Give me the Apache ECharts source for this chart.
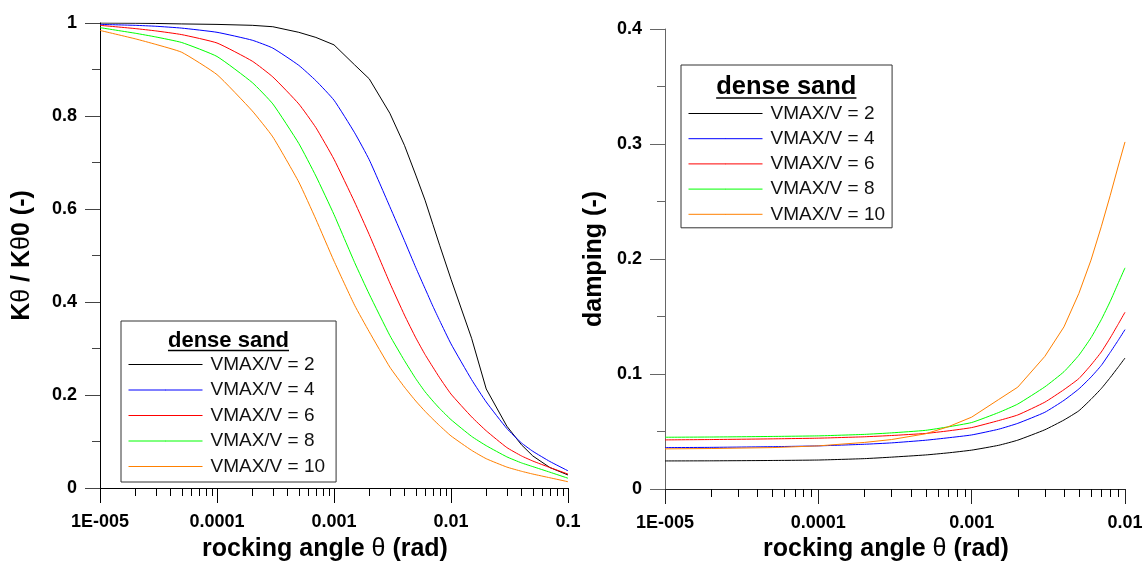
<!DOCTYPE html>
<html><head><meta charset="utf-8">
<script src="https://cdn.jsdelivr.net/npm/echarts@6/dist/echarts.min.js"></script>
<style>html,body{margin:0;padding:0;background:#fff}#c{width:1145px;height:562px}</style>
</head><body><div id="c"></div>
<script>
// ---------- data ----------
const seriesNames = ['VMAX/V = 2', 'VMAX/V = 4', 'VMAX/V = 6', 'VMAX/V = 8', 'VMAX/V = 10'];
const seriesColors = ['#000000', '#0000ff', '#ff0000', '#00ff00', '#ff8000'];

// left panel: stiffness ratio vs rocking angle
const thetaK = [1e-5, 2e-5, 3e-5, 5e-5, 1e-4, 2e-4, 3e-4, 5e-4, 7e-4, 1e-3, 1.5e-3, 2e-3, 3e-3, 4e-3, 5e-3, 6e-3, 7e-3, 8e-3, 1e-2, 1.5e-2, 2e-2, 3e-2, 4e-2, 5e-2, 7e-2, 0.1];
const kV2  = [1.000, 0.9995, 0.999, 0.998, 0.997, 0.995, 0.992, 0.980, 0.969, 0.953, 0.910, 0.880, 0.806, 0.737, 0.673, 0.619, 0.567, 0.522, 0.449, 0.322, 0.213, 0.133, 0.093, 0.069, 0.044, 0.028];
const kV4  = [0.997, 0.995, 0.993, 0.989, 0.980, 0.963, 0.946, 0.909, 0.876, 0.834, 0.764, 0.706, 0.605, 0.532, 0.474, 0.429, 0.391, 0.360, 0.310, 0.233, 0.185, 0.128, 0.097, 0.079, 0.057, 0.037];
const kV6  = [0.995, 0.988, 0.983, 0.975, 0.957, 0.918, 0.884, 0.826, 0.775, 0.707, 0.615, 0.545, 0.441, 0.372, 0.323, 0.287, 0.260, 0.237, 0.202, 0.153, 0.123, 0.087, 0.069, 0.058, 0.044, 0.030];
const kV8  = [0.990, 0.978, 0.970, 0.958, 0.928, 0.872, 0.826, 0.741, 0.671, 0.588, 0.485, 0.417, 0.328, 0.274, 0.235, 0.207, 0.187, 0.171, 0.147, 0.111, 0.091, 0.067, 0.054, 0.046, 0.034, 0.021];
const kV10 = [0.984, 0.966, 0.954, 0.937, 0.889, 0.811, 0.755, 0.658, 0.578, 0.488, 0.393, 0.336, 0.260, 0.217, 0.187, 0.165, 0.148, 0.134, 0.112, 0.081, 0.063, 0.045, 0.036, 0.030, 0.022, 0.0135];

// right panel: damping vs rocking angle
const thetaD = [1e-5, 2e-5, 5e-5, 1e-4, 2e-4, 3e-4, 5e-4, 7e-4, 1e-3, 1.5e-3, 2e-3, 3e-3, 4e-3, 5e-3, 6e-3, 7e-3, 8e-3, 9e-3, 1e-2];
const dV2  = [0.0244, 0.0245, 0.0248, 0.0252, 0.0264, 0.0277, 0.0296, 0.0314, 0.0338, 0.0380, 0.0425, 0.0515, 0.0600, 0.0680, 0.0780, 0.0873, 0.0968, 0.1057, 0.1139];
const dV4  = [0.0360, 0.0362, 0.0368, 0.0375, 0.0389, 0.0401, 0.0424, 0.0445, 0.0470, 0.0520, 0.0571, 0.0667, 0.0771, 0.0870, 0.0973, 0.1074, 0.1187, 0.1290, 0.1386];
const dV6  = [0.0427, 0.0430, 0.0436, 0.0442, 0.0454, 0.0465, 0.0483, 0.0505, 0.0534, 0.0595, 0.0644, 0.0755, 0.0864, 0.0960, 0.1078, 0.1191, 0.1313, 0.1430, 0.1537];
const dV8  = [0.0450, 0.0452, 0.0457, 0.0462, 0.0475, 0.0488, 0.0510, 0.0540, 0.0578, 0.0665, 0.0739, 0.0888, 0.1020, 0.1163, 0.1315, 0.1472, 0.1630, 0.1785, 0.1923];
const dV10 = [0.0349, 0.0352, 0.0360, 0.0375, 0.0405, 0.0430, 0.0480, 0.0540, 0.0625, 0.0778, 0.0886, 0.1153, 0.1410, 0.1700, 0.1990, 0.2280, 0.2550, 0.2800, 0.3018];

// tick labels
const xTickLabelsK = ['1E-005', '0.0001', '0.001', '0.01', '0.1'];
const xTickLabelsD = ['1E-005', '0.0001', '0.001', '0.01'];
const yTickLabelsK = ['0', '0.2', '0.4', '0.6', '0.8', '1'];
const yTickLabelsD = ['0', '0.1', '0.2', '0.3', '0.4'];
const legendTitle = 'dense sand';

// minor log ticks (2..9 in each decade)
function minorLogTicks(decades) {
  const out = [];
  decades.forEach(d => { for (let m = 2; m <= 9; m++) out.push(+(m * d).toPrecision(3)); });
  return out;
}
const minorK = minorLogTicks([1e-5, 1e-4, 1e-3, 1e-2]);
const minorD = minorLogTicks([1e-5, 1e-4, 1e-3]);

// ---------- chart ----------
const FF = '"Liberation Sans", Arial, sans-serif';
const chart = echarts.init(document.getElementById('c'), null, {renderer: 'canvas'});

function pairs(xs, ys) { return xs.map((x, i) => [x, ys[i]]); }

function lineSeries(name, color, xs, ys, xi, smooth) {
  return {
    type: 'line', name: name, xAxisIndex: xi, yAxisIndex: xi,
    data: pairs(xs, ys), symbol: 'none', showSymbol: false,
    smooth: smooth,
    color: color,
    lineStyle: {color: color, width: 1}, itemStyle: {color: color},
    silent: true, clip: true, z: 2
  };
}

function minorTickSeries(xi, vals) {
  return {
    type: 'custom', xAxisIndex: xi, yAxisIndex: xi, silent: true, clip: false, z: 5,
    data: vals.map(v => [v, 0]),
    renderItem: function (params, api) {
      const p = api.coord([api.value(0), api.value(1)]);
      const x = Math.round(p[0]) + 0.5;
      return {type: 'line', shape: {x1: x, y1: p[1], x2: x, y2: p[1] + 8}, style: {stroke: '#000', lineWidth: 1}};
    }
  };
}

const thetaName = '{a|rocking angle }{t|θ}{a| (rad)}';
const richTitle = {
  a: {fontSize: 25, fontWeight: 'bold', fontFamily: FF, color: '#000'},
  t: {fontSize: 25, fontWeight: 'normal', fontFamily: FF, color: '#000'}
};

function xAxisCfg(gi, min, max, labels, lineColor, gap) {
  return {
    type: 'log', logBase: 10, gridIndex: gi, min: min, max: max,
    axisLine: {show: true, onZero: false, lineStyle: {color: lineColor, width: 1}},
    axisTick: {show: true, length: 15, inside: false, lineStyle: {color: lineColor, width: 1}},
    minorTick: {show: false}, splitLine: {show: false}, minorSplitLine: {show: false},
    axisLabel: {
      margin: 25, fontSize: 18, fontWeight: 'bold', fontFamily: FF, color: '#000',
      showMinLabel: true, showMaxLabel: true, hideOverlap: false,
      formatter: v => labels[Math.round(Math.log10(v)) + 5]
    },
    name: thetaName, nameLocation: 'middle', nameGap: gap,
    nameTextStyle: {rich: richTitle, padding: [0, 18, 0, 0]}
  };
}

function yAxisCfg(gi, max, interval, labels, lineColor, tickColor, name, gap) {
  return {
    type: 'value', gridIndex: gi, min: 0, max: max, interval: interval,
    axisLine: {show: true, onZero: false, lineStyle: {color: lineColor, width: 1}},
    axisTick: {show: true, length: 15, lineStyle: {color: tickColor, width: 1}},
    minorTick: {show: true, splitNumber: 2, length: 8, lineStyle: {color: tickColor, width: 1}},
    splitLine: {show: false}, minorSplitLine: {show: false},
    axisLabel: {
      margin: 23, fontSize: 18, fontWeight: 'bold', fontFamily: FF, color: '#000',
      showMinLabel: true, showMaxLabel: true,
      formatter: v => labels[Math.round(v / interval)]
    },
    name: name, nameLocation: 'middle', nameGap: gap, nameRotate: 90,
    nameTextStyle: {rich: richTitle}
  };
}

const legendText = {fontSize: 19, lineHeight: 19, fontFamily: FF, color: '#111', padding: [0, 0, 0, 3]};

const series = [];
const kSets = [kV2, kV4, kV6, kV8, kV10];
const dSets = [dV2, dV4, dV6, dV8, dV10];
kSets.forEach((ys, i) => series.push(lineSeries(seriesNames[i], seriesColors[i], thetaK, ys, 0, i === 0 ? false : 0.15)));
dSets.forEach((ys, i) => series.push(lineSeries(seriesNames[i], seriesColors[i], thetaD, ys, 1, i === 4 ? false : 0.15)));
series.push(minorTickSeries(0, minorK));
series.push(minorTickSeries(1, minorD));

// underline widths measured from the actual font
function textWidth(txt, font) {
  const c = document.createElement('canvas').getContext('2d');
  c.font = font; return c.measureText(txt).width;
}
const fontL = 'bold 22px ' + FF, fontR = 'bold 25.5px ' + FF;
const wL = textWidth(legendTitle, fontL), wR = textWidth(legendTitle, fontR);
const cxL = 228.5, baseL = 349, cxR = 786.3, baseR = 96;

function legendCfg(left, top, gap, padding) {
  return {
    data: seriesNames.map((n, i) => ({
      name: n,
      lineStyle: {color: seriesColors[i], width: 1, opacity: 1},
      itemStyle: {color: seriesColors[i]}
    })),
    orient: 'vertical', left: left, top: top,
    itemWidth: 74, itemHeight: 1, itemGap: gap, padding: padding,
    borderColor: '#333', borderWidth: 1, backgroundColor: '#fff',
    textStyle: legendText, selectedMode: false, z: 10
  };
}

const option = {
  backgroundColor: '#ffffff',
  animation: false,
  grid: [
    {left: 100, top: 23, width: 468, height: 465, containLabel: false, outerBoundsMode: 'none'},
    {left: 665, top: 29, width: 460, height: 460, containLabel: false, outerBoundsMode: 'none'}
  ],
  xAxis: [
    xAxisCfg(0, 1e-5, 0.1, xTickLabelsK, '#000', 49),
    xAxisCfg(1, 1e-5, 0.01, xTickLabelsD, '#222', 48)
  ],
  yAxis: [
    yAxisCfg(0, 1, 0.2, yTickLabelsK, '#000', '#444', '{a|K}{t|θ}{a| / K}{t|θ}{a|0 (-)}', 65),
    yAxisCfg(1, 0.4, 0.1, yTickLabelsD, '#666', '#666', '{a|damping (-)}', 58)
  ],
  legend: [
    legendCfg(121, 321, 6.5, [34, 11, 6, 7]),
    legendCfg(681, 65, 6.2, [39, 7, 4, 7])
  ],
  graphic: [
    {type: 'text', x: cxL, y: baseL - 0.3465 * 22, z: 100,
     style: {text: legendTitle, font: fontL, fill: '#000', textAlign: 'center', textVerticalAlign: 'middle'}},
    {type: 'line', z: 100, shape: {x1: cxL - wL / 2, y1: baseL + 1.5, x2: cxL + wL / 2, y2: baseL + 1.5},
     style: {stroke: '#000', lineWidth: 1.5}},
    {type: 'text', x: cxR, y: baseR - 0.3465 * 25.5, z: 100,
     style: {text: legendTitle, font: fontR, fill: '#000', textAlign: 'center', textVerticalAlign: 'middle'}},
    {type: 'line', z: 100, shape: {x1: cxR - wR / 2, y1: baseR + 2, x2: cxR + wR / 2, y2: baseR + 2},
     style: {stroke: '#000', lineWidth: 1.6}}
  ],
  series: series
};
chart.setOption(option);
</script>
</body></html>
